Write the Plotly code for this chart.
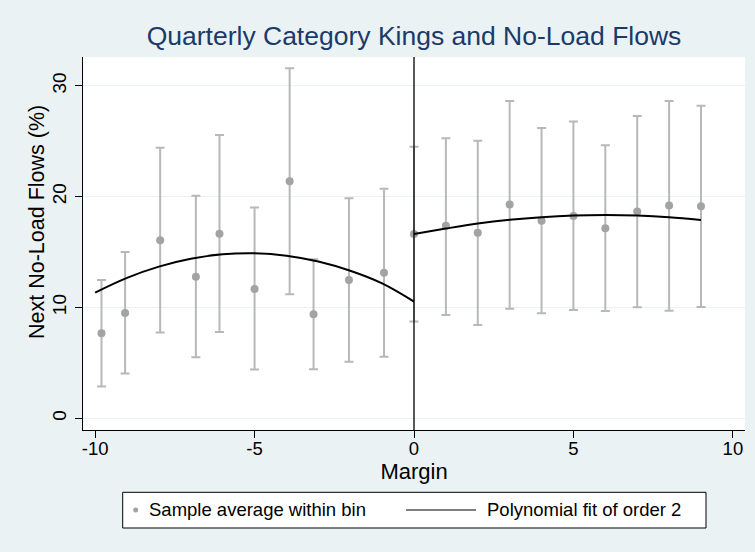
import plotly.graph_objects as go

# Binned sample averages (left and right of cutoff)
bin_x_left = [-9.8, -9.06, -7.96, -6.84, -6.1, -5.0, -3.9, -3.15, -2.04, -0.94]
bin_y_left = [7.67, 9.50, 16.06, 12.78, 16.66, 11.67, 21.38, 9.38, 12.48, 13.14]
ci_hi_left = [12.48, 15.0, 24.42, 20.09, 25.56, 19.01, 31.58, 14.35, 19.85, 20.72]
ci_lo_left = [2.86, 4.03, 7.73, 5.50, 7.79, 4.39, 11.19, 4.42, 5.11, 5.56]

bin_x_right = [0, 1, 2, 3, 4, 5, 6, 7, 8, 9]
bin_y_right = [16.63, 17.38, 16.75, 19.28, 17.83, 18.26, 17.14, 18.65, 19.19, 19.13]
ci_hi_right = [24.51, 25.26, 25.05, 28.63, 26.20, 26.77, 24.63, 27.28, 28.63, 28.21]
ci_lo_right = [8.72, 9.32, 8.42, 9.89, 9.47, 9.77, 9.68, 10.02, 9.71, 10.05]

# Polynomial fit (order 2)
fit_x_left = [-10, -9, -8, -7, -6, -5, -4, -3, -2, -1, 0]
fit_y_left = [11.34, 12.67, 13.68, 14.39, 14.79, 14.88, 14.67, 14.14, 13.31, 12.17, 10.53]
fit_x_right = [0, 1, 2, 3, 4, 5, 6, 7, 8, 9]
fit_y_right = [16.63, 17.12, 17.57, 17.91, 18.15, 18.30, 18.35, 18.30, 18.15, 17.90]

x_ticks = [-10, -5, 0, 5, 10]
x_tick_labels = ["-10", "-5", "0", "5", "10"]
y_ticks = [0, 10, 20, 30]
y_tick_labels = ["0", "10", "20", "30"]

legend_labels = ["Sample average within bin", "Polynomial fit of order 2"]
y_title = "Next No-Load Flows (%)"

BG = "#EAF2F3"
FONT = "Arial, Liberation Sans, sans-serif"
MARKER_COLOR = "#A3A3A3"
W, H = 755, 552
ML, MR, MT, MB = 83, 10, 57, 122
PW, PH = W - ML - MR, H - MT - MB


def px(xp):
    return (xp - ML) / PW


def py(yp):
    return (H - MB - yp) / PH


bx = bin_x_left + bin_x_right
by = bin_y_left + bin_y_right
hi = ci_hi_left + ci_hi_right
lo = ci_lo_left + ci_lo_right
err_plus = [h - y for h, y in zip(hi, by)]
err_minus = [y - l for y, l in zip(by, lo)]

fig = go.Figure()
fig.add_trace(go.Scatter(
    x=bx, y=by, mode="markers",
    name=legend_labels[0],
    marker=dict(color=MARKER_COLOR, size=8),
    error_y=dict(type="data", array=err_plus, arrayminus=err_minus,
                 color="#B8B8B8", thickness=2, width=4.5),
))
fig.add_trace(go.Scatter(
    x=fit_x_left + [None] + fit_x_right,
    y=fit_y_left + [None] + fit_y_right,
    mode="lines", line=dict(color="black", width=2, shape="spline"),
    name=legend_labels[1], connectgaps=False,
))

fig.add_shape(type="line", xref="x", yref="paper", x0=0, x1=0, y0=0, y1=1,
              line=dict(color="black", width=1.3))

# Manual legend (Stata style)
fig.add_shape(type="rect", xref="paper", yref="paper",
              x0=px(122.7), x1=px(706), y0=py(528), y1=py(492.3),
              line=dict(color="black", width=1), fillcolor="white", layer="above")
fig.add_shape(type="circle", xref="paper", yref="paper",
              x0=px(133.2), x1=px(138.2), y0=py(512.5), y1=py(507.5),
              line=dict(width=0), fillcolor=MARKER_COLOR, layer="above")
fig.add_shape(type="line", xref="paper", yref="paper",
              x0=px(406), x1=px(476), y0=py(510), y1=py(510),
              line=dict(color="black", width=1.2), layer="above")
fig.add_annotation(text=legend_labels[0], xref="paper", yref="paper",
                   x=px(147), y=py(510), xanchor="left", yanchor="middle",
                   showarrow=False, font=dict(size=18.5, color="black"))
fig.add_annotation(text=legend_labels[1], xref="paper", yref="paper",
                   x=px(485), y=py(510), xanchor="left", yanchor="middle",
                   showarrow=False, font=dict(size=18.5, color="black"))

# Y-axis title (placed like Stata's)
fig.add_annotation(text=y_title, xref="paper", yref="paper",
                   x=px(37), y=py(222), xanchor="center", yanchor="middle",
                   textangle=-90, showarrow=False,
                   font=dict(size=21.5, color="black"))

fig.update_layout(
    width=W, height=H,
    paper_bgcolor=BG, plot_bgcolor="white",
    margin=dict(l=ML, r=MR, t=MT, b=MB, autoexpand=False),
    font=dict(family=FONT, size=18.5, color="black"),
    title=dict(text="Quarterly Category Kings and No-Load Flows",
               xref="paper", x=0.5, xanchor="center",
               yref="container", y=1 - 36 / H, yanchor="middle",
               font=dict(size=26.5, color="#1A3A6B")),
    showlegend=False,
)
fig.update_xaxes(range=[-10.38, 10.38], tickvals=x_ticks, ticktext=x_tick_labels,
                 ticks="outside", ticklen=7, ticklabelstandoff=-5,
                 tickcolor="black", showline=True, linecolor="black", linewidth=1,
                 showgrid=False, zeroline=False, automargin=False,
                 title=dict(text="Margin", standoff=2))
fig.update_yaxes(range=[-1.06, 32.6], tickvals=y_ticks, ticktext=y_tick_labels,
                 ticks="outside", ticklen=7, ticklabelstandoff=1,
                 tickfont=dict(size=19),
                 tickcolor="black", showline=True, linecolor="black", linewidth=1,
                 showgrid=True, gridcolor=BG, gridwidth=1, zeroline=False,
                 tickangle=-90, automargin=False)

fig.write_html("out.html", post_script="document.body.style.margin='0';",
               config={"displayModeBar": False})
